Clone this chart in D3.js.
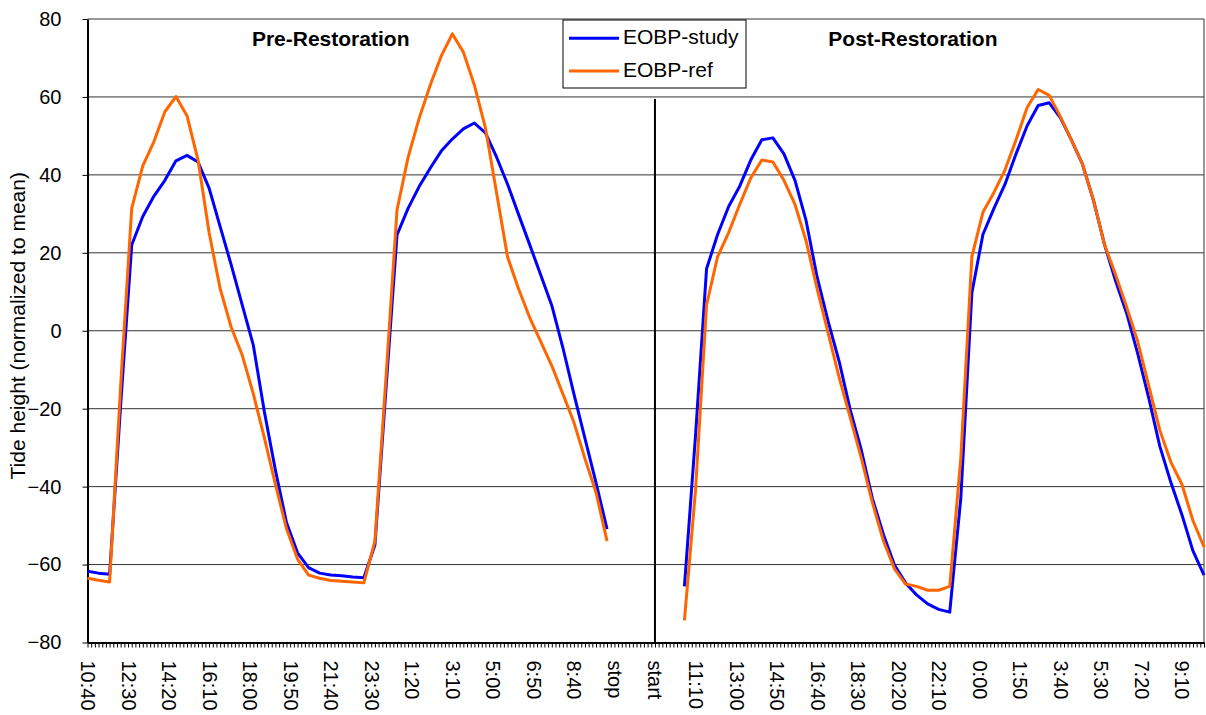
<!DOCTYPE html>
<meta charset="utf-8">
<script src="https://d3js.org/d3.v7.min.js"></script>
<style>
  body { margin: 0; background: #fff; }
  text { font-family: "Liberation Sans", Arial, sans-serif; fill: #000; }
</style>

<div id="chart"></div>

<script>
  // category axis: one category per 10 minutes, a label on every 11th
  var tickLabels = ["10:40", "12:30", "14:20", "16:10", "18:00", "19:50", "21:40", "23:30",
    "1:20", "3:10", "5:00", "6:50", "8:40", "stop", "start", "11:10", "13:00", "14:50",
    "16:40", "18:30", "20:20", "22:10", "0:00", "1:50", "3:40", "5:30", "7:20", "9:10"];
  var categoryCount = 304;
  var labelEvery = 11;
  var yTicks = [-80, -60, -40, -20, 0, 20, 40, 60, 80];

  // readings taken every 3rd category (30 min) from the first category of each run
  var sampleStep = 3;
  var preFirst = 0, postFirst = 162;
  var separatorAt = 154, separatorTop = 59.5;

  var preStudy = [-61.7, -62.2, -62.5, -19, 22, 29.3, 34.5, 38.6, 43.6, 45.0,
    43.3, 36.6, 26.7, 16.9, 6.6, -3.7, -20.8, -35.8, -49.2, -57,
    -60.8, -62.2, -62.7, -62.9, -63.2, -63.4, -55, -15, 24.6, 31.4,
    37, 41.7, 46.1, 49.2, 51.8, 53.3, 50.8, 44.6, 37.6, 29.8,
    22.1, 14.3, 6.5, -4.3, -16.2, -27.6, -39, -50.9];
  var preRef = [-63.5, -64, -64.5, -14, 31.4, 42.3, 48.5, 56.2, 60.1, 55.2,
    43.8, 25.2, 10.8, 0.9, -6.3, -16.2, -27.5, -39.4, -50.8, -58.6,
    -62.7, -63.5, -64.1, -64.3, -64.5, -64.7, -54, -12, 31, 44.5,
    54.5, 63, 70.5, 76.2, 71.5, 63, 52, 35.5, 18.9, 10.7,
    3.4, -2.8, -9, -16.2, -23.5, -32.8, -41.5, -54];
  var postStudy = [-65.6, -27, 15.9, 24.7, 31.9, 37.1, 43.8, 49, 49.5, 45.4,
    38.6, 28.3, 13.8, 2.4, -7.9, -20.3, -30.6, -43, -52.3, -60.1,
    -64.7, -67.8, -70.1, -71.5, -72.2, -43, 9.7, 24.7, 31.4, 37.6,
    45.4, 52.6, 57.8, 58.5, 54.7, 49, 42.8, 33.5, 22.1, 12.8,
    4.5, -5.8, -17.2, -29.6, -38.9, -47.2, -56.5, -62.7];
  var postRef = [-74.3, -41, 6.6, 19, 25.2, 32.4, 39.2, 43.8, 43.3, 38.6,
    32.4, 23.1, 10.8, -0.6, -12, -22.3, -32.7, -44.1, -53.9, -61.1,
    -65, -65.6, -66.6, -66.6, -65.6, -32.7, 19, 30.4, 35.5, 41.3,
    49, 57.3, 61.9, 60.4, 55, 49, 42.8, 33.5, 22.1, 14.4,
    6.1, -2.7, -14.1, -25.5, -33.7, -39.4, -48.7, -55.5];

  var series = [
    { name: "EOBP-study", color: "#0000ff", runs: [[preFirst, preStudy], [postFirst, postStudy]] },
    { name: "EOBP-ref", color: "#ff6600", runs: [[preFirst, preRef], [postFirst, postRef]] }
  ];
  var titles = [{ text: "Pre-Restoration", at: 66 }, { text: "Post-Restoration", at: 224 }];

  var margin = { top: 19, right: 2, bottom: 72.5, left: 87.5 },
    width = 1206 - margin.left - margin.right,
    height = 715 - margin.top - margin.bottom;

  var svg = d3.select("#chart")
    .append("svg")
    .attr("width", 1206)
    .attr("height", 715)
    .append("g")
    .attr("transform", "translate(" + margin.left + "," + margin.top + ")");

  var x = d3.scalePoint()
    .domain(d3.range(categoryCount))
    .range([0, width]);

  var y = d3.scaleLinear()
    .domain([-80, 80])
    .range([height, 0]);

  // gridlines
  svg.selectAll(".grid")
    .data(yTicks.filter(function (d) { return d > -80; }))
    .enter()
    .append("line")
    .attr("x1", 0)
    .attr("x2", width)
    .attr("y1", function (d) { return y(d); })
    .attr("y2", function (d) { return y(d); })
    .attr("stroke", "#333")
    .attr("stroke-width", 1);

  svg.append("line")
    .attr("x1", width).attr("x2", width)
    .attr("y1", 0).attr("y2", height)
    .attr("stroke", "#333")
    .attr("stroke-width", 1);

  // x axis
  var xAxis = svg.append("g")
    .attr("transform", "translate(0," + height + ")")
    .call(d3.axisBottom(x)
      .tickSize(5)
      .tickSizeOuter(0)
      .tickFormat(function (d) { return d % labelEvery === 0 ? tickLabels[d / labelEvery] : ""; }));
  xAxis.select(".domain").attr("stroke-width", 2);
  xAxis.selectAll(".tick line").attr("stroke-width", 1);
  xAxis.selectAll("text")
    .attr("font-size", "20px")
    .attr("font-family", null)
    .attr("y", 0)
    .attr("x", 18)
    .attr("dy", "0.35em")
    .attr("transform", "rotate(90)")
    .style("text-anchor", "start");

  // y axis
  var yAxis = svg.append("g")
    .call(d3.axisLeft(y)
      .tickValues(yTicks)
      .tickSize(5)
      .tickSizeOuter(0)
      .tickPadding(21));
  yAxis.select(".domain").attr("stroke-width", 2);
  yAxis.selectAll("text")
    .attr("font-size", "20px")
    .attr("font-family", null);

  svg.append("text")
    .attr("transform", "translate(" + (25 - margin.left) + "," + (height / 2 - 5) + ")rotate(-90)")
    .attr("text-anchor", "middle")
    .attr("font-size", "21px")
    .text("Tide height (normalized to mean)");

  // separator between the two periods
  svg.append("line")
    .attr("x1", x(separatorAt)).attr("x2", x(separatorAt))
    .attr("y1", y(separatorTop)).attr("y2", height)
    .attr("stroke", "#000")
    .attr("stroke-width", 2);

  // series
  var line = d3.line()
    .x(function (d) { return x(d.i); })
    .y(function (d) { return y(d.v); });

  series.forEach(function (s) {
    s.runs.forEach(function (run) {
      var pts = run[1].map(function (v, k) { return { i: run[0] + k * sampleStep, v: v }; });
      svg.append("path")
        .datum(pts)
        .attr("fill", "none")
        .attr("stroke", s.color)
        .attr("stroke-width", 3)
        .attr("stroke-linejoin", "round")
        .attr("d", line);
    });
  });

  // period titles
  svg.selectAll(".title")
    .data(titles)
    .enter()
    .append("text")
    .attr("x", function (d) { return x(d.at); })
    .attr("y", 26.5)
    .attr("text-anchor", "middle")
    .attr("font-size", "21px")
    .attr("font-weight", "bold")
    .text(function (d) { return d.text; });

  // legend
  var legend = svg.append("g")
    .attr("transform", "translate(" + (563 - margin.left) + "," + (20 - margin.top) + ")");
  legend.append("rect")
    .attr("width", 183)
    .attr("height", 68)
    .attr("fill", "#fff")
    .attr("stroke", "#000")
    .attr("stroke-width", 1);
  var item = legend.selectAll(".item")
    .data(series)
    .enter()
    .append("g")
    .attr("transform", function (d, i) { return "translate(0," + (18.3 + i * 32.7) + ")"; });
  item.append("line")
    .attr("x1", 6).attr("x2", 56)
    .attr("stroke", function (d) { return d.color; })
    .attr("stroke-width", 3);
  item.append("text")
    .attr("x", 60)
    .attr("y", 5.7)
    .attr("font-size", "21px")
    .text(function (d) { return d.name; });
</script>
